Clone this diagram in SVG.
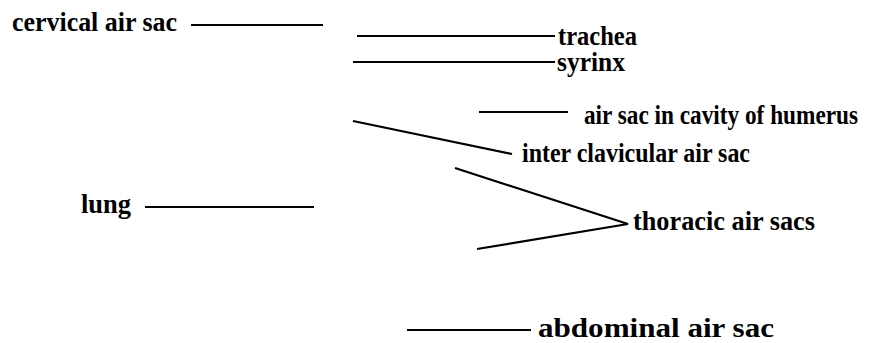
<svg xmlns="http://www.w3.org/2000/svg" width="887" height="343" viewBox="0 0 887 343">
<style>
.t{font-family:'Liberation Serif','Times New Roman',serif;font-weight:700;font-size:27px;fill:#000}
.l{stroke:#000;stroke-width:2.2;fill:none;stroke-linecap:butt}
</style>
<rect width="887" height="343" fill="#fff"/>
<g id="connectors">
<line class="l" x1="191" y1="25" x2="323" y2="25"/>
<line class="l" x1="357" y1="36" x2="555" y2="36"/>
<line class="l" x1="353" y1="62" x2="555" y2="62"/>
<line class="l" x1="479" y1="112" x2="568" y2="112"/>
<line class="l" x1="353" y1="121" x2="512" y2="154"/>
<line class="l" x1="145" y1="207" x2="314" y2="207"/>
<polyline class="l" points="455,168 628,224 477,249"/>
<line class="l" x1="407" y1="330" x2="531" y2="330"/>
</g>
<g id="cervical-air-sac"><text class="t" x="12" y="31" textLength="165" lengthAdjust="spacingAndGlyphs">cervical air sac</text></g>
<g id="trachea"><text class="t" x="558" y="45" textLength="79" lengthAdjust="spacingAndGlyphs">trachea</text></g>
<g id="syrinx"><text class="t" x="557" y="71" textLength="68" lengthAdjust="spacingAndGlyphs">syrinx</text></g>
<g id="air-sac-humerus"><text class="t" x="584" y="124" textLength="274" lengthAdjust="spacingAndGlyphs">air sac in cavity of humerus</text></g>
<g id="inter-clavicular-air-sac"><text class="t" x="522" y="162" textLength="228" lengthAdjust="spacingAndGlyphs">inter clavicular air sac</text></g>
<g id="lung"><text class="t" x="81" y="213" textLength="50" lengthAdjust="spacingAndGlyphs">lung</text></g>
<g id="thoracic-air-sacs"><text class="t" x="633" y="230" textLength="182" lengthAdjust="spacingAndGlyphs">thoracic air sacs</text></g>
<g id="abdominal-air-sac"><text class="t" x="538" y="337" textLength="236" lengthAdjust="spacingAndGlyphs">abdominal air sac</text></g>
</svg>
